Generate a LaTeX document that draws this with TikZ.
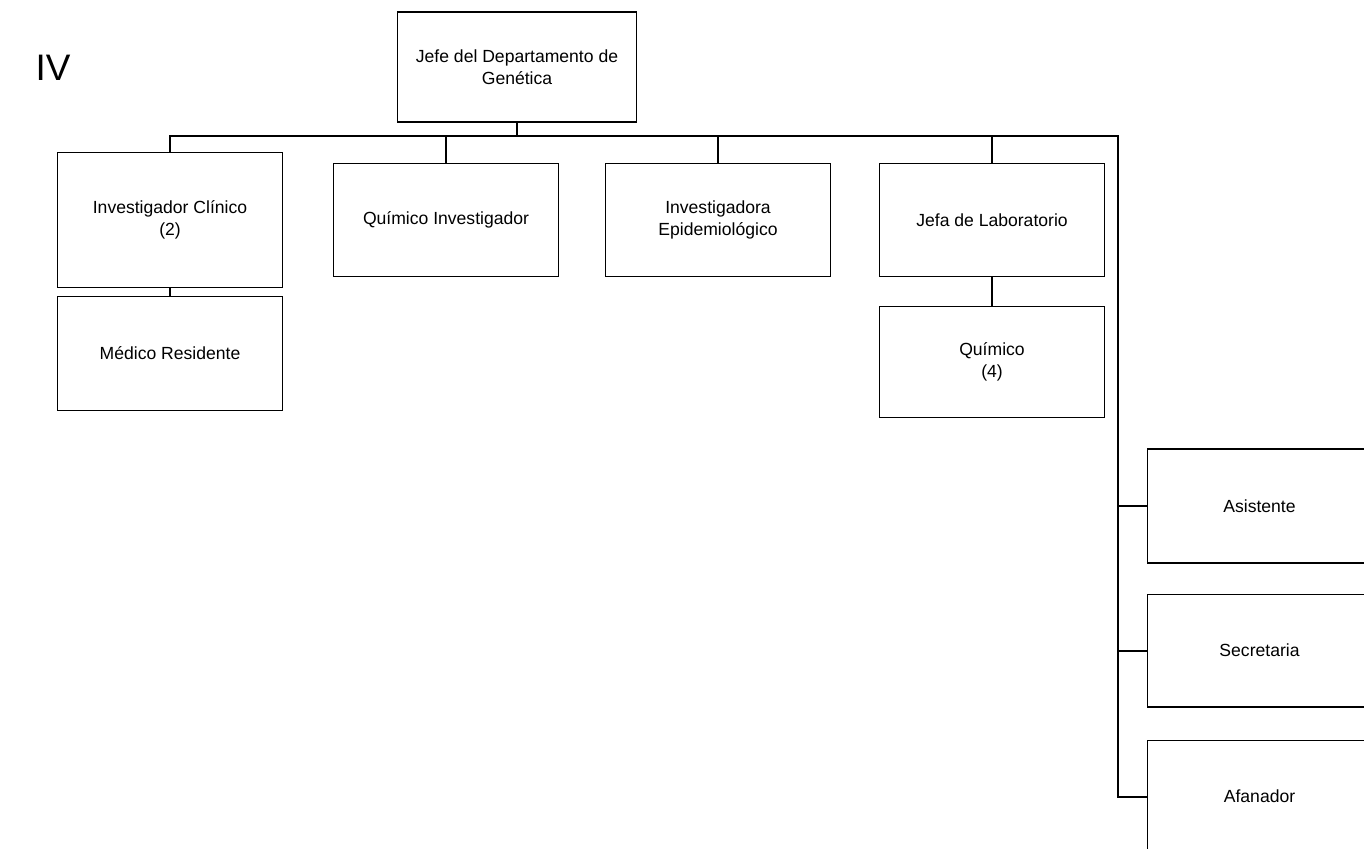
\documentclass[tikz,border=0pt]{standalone}
\usepackage{fontspec}
\setmainfont{Liberation Sans}
\usetikzlibrary{positioning}

\begin{document}
\begin{tikzpicture}[x=0.02cm, y=-0.02cm,
  box/.style={draw, line width=0.6pt, minimum width=4.5cm, minimum height=2.26cm,
              font=\fontsize{10}{12.5}\selectfont, align=center, inner sep=2pt},
  link/.style={line width=1.1pt},
]
  \clip (0,0) rectangle (1364,848);

  \node[font=\fontsize{21}{24}\selectfont] (nivel) at (53,68) {IV};

  \node[box, minimum width=4.78cm, minimum height=2.2cm] (jefe) at (517,67) {Jefe del Departamento de\\Genética};

  % primera linea
  \node[box, minimum height=2.7cm] (invclin) at (170,220) {Investigador Clínico\\(2)};
  \node[box, right=1.0cm of invclin]  (quiminv) {Químico Investigador};
  \node[box, right=0.92cm of quiminv] (epid) {Investigadora\\Epidemiológico};
  \node[box, right=0.96cm of epid]    (jefalab) {Jefa de Laboratorio};

  \node[box, minimum height=2.28cm, below=0.16cm of invclin] (medico) {Médico Residente};
  \node[box, minimum height=2.22cm, below=0.58cm of jefalab] (quimico) {Químico\\(4)};

  % columna derecha
  \node[box, minimum height=2.28cm] (asist) at (1259.5,506) {Asistente};
  \node[box, below=0.6cm of asist]   (secret) {Secretaria};
  \node[box, below=0.64cm of secret] (afan) {Afanador};

  \coordinate (rail) at (1118,136);

  \draw[link] (jefe.south) -- (jefe.south |- rail);
  \draw[link] (invclin.north) |- (rail) -- (rail |- afan.west) -- (afan.west);
  \foreach \n in {quiminv, epid, jefalab}
    \draw[link] (\n.north) -- (\n.north |- rail);
  \foreach \n in {asist, secret}
    \draw[link] (\n.west) -- (\n.west -| rail);
  \draw[link] (invclin) -- (medico);
  \draw[link] (jefalab) -- (quimico);
\end{tikzpicture}
\end{document}
